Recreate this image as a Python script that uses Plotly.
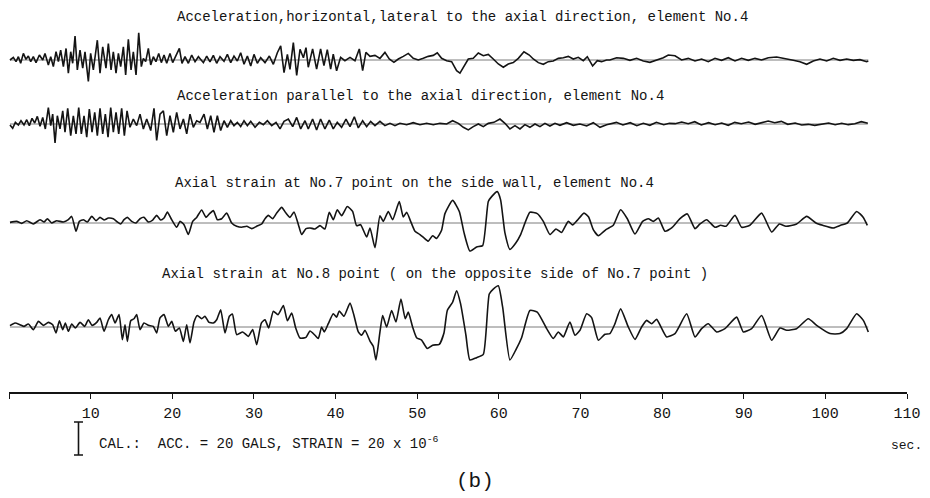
import plotly.graph_objects as go

# ---------------------------------------------------------------------------
# Digitised records (time in s, amplitude in gal or micro-strain about each
# channel's own zero line); listed as successive turning points.
# ---------------------------------------------------------------------------
acc_h_t = [0.12, 0.53, 0.86, 1.15, 1.43, 1.76, 2.08, 2.37, 2.66, 2.98,
           3.31, 3.72, 4.13, 4.41, 4.82, 5.11, 5.43, 5.76, 6.05, 6.33,
           6.66, 6.99, 7.27, 7.56, 7.8, 8.09, 8.37, 8.7, 9.03, 9.31,
           9.72, 10.0, 10.33, 10.82, 11.15, 11.48, 11.88, 12.17, 12.5, 12.78,
           13.11, 13.4, 13.68, 14.01, 14.29, 14.62, 14.95, 15.23, 15.56, 15.89,
           16.21, 16.46, 16.74, 17.07, 17.36, 17.68, 18.0, 18.34, 18.66, 18.99,
           19.32, 19.72, 20.05, 20.46, 20.87, 21.19, 21.56, 21.97, 22.38, 22.79,
           23.2,
           23.81, 24.22, 24.62, 25.03, 25.44, 25.85, 26.34, 26.75, 27.16, 27.56,
           27.97, 28.38, 28.79, 29.2, 29.61, 30.01, 30.42, 30.83, 31.36, 31.89,
           32.38, 32.87, 33.28, 33.69, 34.1, 34.42, 34.83, 35.24, 35.65, 36.06,
           36.38,
           36.66, 37.19, 37.68, 38.17, 38.58, 38.99, 39.4, 39.72, 40.13, 40.62,
           41.15, 41.77, 42.38, 42.91, 43.32, 43.72, 44.22, 44.83, 45.44, 46.05,
           46.58, 47.15, 47.69, 48.3, 48.91, 49.52, 50.14, 50.75, 51.36, 51.97,
           52.46, 52.99, 53.61, 54.22, 54.83, 55.24, 55.73, 56.26, 56.87, 57.49,
           58.1, 58.71, 59.32, 59.94, 60.55, 61.16, 61.77, 62.39, 63.08, 63.73,
           64.22, 64.84, 65.45, 66.06, 66.67, 67.29, 67.9, 68.51, 69.12, 69.73,
           70.35, 70.84, 71.49, 72.06, 72.59, 73.2,
           73.6, 74.43, 75.25, 76.06, 76.88, 77.7, 78.51, 79.33, 80.15, 80.76,
           81.58, 82.39, 83.21, 84.03, 84.84, 85.66, 86.48, 87.29, 88.11, 88.93,
           89.74, 90.56, 91.38, 92.19, 93.01, 94.03, 95.05, 96.07, 96.89, 97.71,
           98.52, 99.34, 100.16, 100.97, 101.79, 102.61, 103.42, 104.24, 105.06, 105.26]
acc_h_v = [0, 1.6, -1, 2, -2, 4, 0.4, 2.4, -1, 2,
           -1.6, 3, 0, 4, -3, 2, -4, 5, -1, 6,
           -4, 7, -8, 5, -2, 14.5, -6, 6, -5, 5,
           -13, 4, -6, 12, -8, 8, -5, 10, -6, 5,
           -8, 4, -4, 8, -9, 12.5, -6, 5, -9, 16.5,
           -4, 1, -1, 7, -3, 2, -1, 4, -1.6, 3,
           -2, 4, -1.6, 3, 7, -2, 2, -2, 3, -1,
           2,
           -1.6, 2.4, -1.2, 2.8, -2, 2, -0.8, 3.4, -1.6, 2.4,
           -0.6, 4.4, -2.6, 2.4, -3.6, 3.4, -2, 1.4, -1.6, 2.4,
           -2.6, 4.4, 8.5, -7.7, 3.4, -5.7, 10.5, -9.3, 6.5, 1.4,
           7.5,
           -4.4, 6.7, -5.5, 6.7, -3.4, 6.3, -5.5, 3.6, -6.5, 1.6,
           -0.4, 1.6, -0.4, 6.7, -6.5, 4.6, 2.2, 2.8, 1, 4.6,
           0.6, -1.4, 0.6, 2.2, 4, 1, 0, 1, 2.2, 2.8,
           4.4, 1, -0.4, -1, -6.5, -7.9, -3.4, 0.6, 1, 4.2,
           2.6, 3.4, 0.6, -2.4, -4.4, -2.4, -1.6, 1, 5, 3,
           0.6, -1.6, -2.6, -1, -0.6, 1, 1.4, 2.2, 0.6, 1.6,
           -0.4, 2, -3.6, -0.4, -1, 0,
           0, 1.4, 1, -0.2, 1, -0.6, -1.4, 0, 1.4, 3,
           2.6, 0, 1, -0.6, 0.6, -1, 1, -0.2, 1.4, -0.6,
           1, -0.2, 1, 0, 1.4, 1.8, 0.6, -0.2, -1, -2.6,
           -0.6, 0.6, -0.6, 1, -0.2, 0.6, -0.2, 0.2, -1, -0.6]

acc_a_t = [0.12, 0.45, 0.78, 1.15, 1.47, 1.84, 2.17, 2.49, 2.82, 3.15,
           3.47, 3.8, 4.13, 4.45, 4.82, 5.11, 5.35, 5.64, 5.92, 6.25,
           6.58, 6.86, 7.19, 7.56, 7.88, 8.21, 8.54, 8.86, 9.19, 9.52,
           9.84, 10.17, 10.5, 10.82, 11.15, 11.48, 11.8, 12.13, 12.46, 12.78,
           13.11, 13.44, 13.8, 14.13, 14.46, 14.82, 15.23, 15.64, 16.05, 16.46,
           16.87, 17.36, 17.76, 18.09, 18.5, 18.91, 19.32, 19.72, 20.13, 20.54,
           20.95, 21.36, 21.77, 22.17, 22.58, 22.99,
           23.4, 23.89, 24.3, 24.71, 25.11, 25.52, 25.93, 26.34, 26.75, 27.16,
           27.56, 27.97, 28.38, 28.79, 29.2, 29.61, 30.14, 30.67, 31.16, 31.65,
           32.18, 32.71, 33.2, 33.69, 34.22, 34.75, 35.24, 35.73, 36.26,
           36.66, 37.19, 37.68, 38.17, 38.7, 39.23, 39.72, 40.21, 40.74, 41.28,
           41.77, 42.3, 42.79, 43.32, 43.81, 44.3, 44.83, 45.44, 46.05, 46.67,
           47.28, 47.89, 48.71, 49.52, 50.34, 51.16, 51.97, 52.79, 53.61, 54.34,
           55.04, 55.65, 56.26, 56.87, 57.49, 58.1, 58.71, 59.4, 60.14, 60.75,
           61.36, 61.98, 62.59, 63.2, 63.81, 64.43, 65.04, 65.65, 66.26, 66.88,
           67.49, 68.31, 69.12, 69.94, 70.76, 71.57, 72.39, 73.2,
           74.4, 75.2, 76.1, 76.9, 77.7, 78.5, 79.3, 80.2, 80.9, 81.6,
           82.4, 83.2, 84.0, 84.8, 85.7, 86.5, 87.3, 88.1, 88.9, 89.7,
           90.6, 91.4, 92.2, 93.0, 93.8, 94.6, 95.4, 96.3, 97.1, 97.9,
           98.7, 99.5, 100.4, 101.2, 102.0, 102.8, 103.6, 104.4, 105.2]
acc_a_v = [-0.6, -2.6, 1, -0.6, 2, -0.6, 2.6, -1, 3.4, 0.6,
           4.6, -1.4, 4, -3, 10, -1, 6, -11.5, 5, -3,
           8, -5, 9.5, -7, 5, -6, 10, -6, 5, -8,
           9, -5, 7, -7, 9.5, -6, 6, -8, 10, -5,
           7, -6, 9.5, -7, 8, -2, 3, -1, 6, -3,
           3, -4, 9.5, -10, 6, 8, -7, 5, -5, 7,
           -3, 3, -6, 6, -2, 2,
           1, 6, -3, 5, -5, 5, -4, 2, -2, 2,
           -1, 1, -1.6, 2, -1, 1.6, -2, 1, -0.4, 2,
           -1, 1, -3, 1.6, 3, -1.6, 4, -3, 2,
           -3, 3, -3.6, 3, -3, 2.4, -3, 1, -2, 3,
           -1.6, 4.4, -2.4, 2, -1.6, 1.6, -1, 1.6, -1, 0.4,
           -1, 0.4, -0.4, 0.8, -0.4, 0.4, -0.4, 0.4, 0, 2,
           0.4, -2, -3.6, -1.6, 0, -1.6, 0.4, 1, 3, 0.4,
           -3, -1, -3, -0.4, -2, 0, -1.6, 0.4, -1.2, 0.4,
           -0.8, 0.8, -0.8, 0, -1.2, 0.8, -2, -0.4,
           1, -0.6, 0.8, -1, 0.4, -0.8, 1, -0.4, 0.4, 0.2,
           1.2, 0.2, 1.4, -0.6, 0.8, -0.4, 0.6, -0.8, 1, 0.2,
           1.2, -0.2, 0.6, 1.8, 0.8, 1.6, -0.2, 0.6, -0.6, -0.2,
           -0.8, 0, 0.6, -0.4, 0.4, -0.4, 0.2, 1.4, 0.4]

strain7_t = [0.12, 0.94, 1.55, 2.17, 2.98, 3.8, 4.29, 4.7, 5.23, 5.84,
             6.66, 7.27, 7.68, 8.21, 8.62, 9.11, 9.6, 10.13, 10.66, 11.15,
             11.64, 12.17, 12.78, 13.27, 13.68, 14.09, 14.5, 15.03, 15.56, 16.05,
             16.54, 17.07, 17.6, 18.09, 18.58, 18.99, 19.4, 19.93, 20.54, 20.95,
             21.44, 21.97, 22.5, 22.99, 23.6, 24.13, 24.54, 25.03, 25.52, 26.05,
             26.67, 27.28, 27.89, 28.5, 29.12, 29.73, 30.34, 30.95, 31.36, 31.77,
             32.3, 32.79, 33.4, 33.93, 34.42, 34.91, 35.45, 35.85, 36.38,
             36.87, 37.48, 38.09, 38.7, 39.23, 39.72, 40.21, 40.74, 41.44, 42.09,
             42.58, 43.07, 43.81, 44.22, 44.83, 45.44, 45.85, 46.46, 46.99, 47.81,
             48.3, 48.71, 49.2, 49.73, 50.34, 50.83, 51.36, 51.89, 52.38, 52.99,
             53.4, 54.34, 55.16, 55.73, 56.46, 57.28, 58.02, 58.71, 59.12, 59.81,
             60.22, 60.75, 61.36, 62.1, 62.67, 63.81, 64.71, 65.45, 66.26, 67.0,
             67.69, 68.51, 69.04, 69.61, 70.43, 71.0, 71.57, 72.19, 73.12,
             74.02, 74.92, 75.74, 76.68, 77.62, 78.31, 78.92, 79.54, 80.35, 81.17,
             82.19, 83.09, 84.03, 84.64, 85.46, 86.48, 87.17, 87.83, 88.93, 89.74,
             90.76, 92.19, 93.42, 94.36, 95.17, 96.48, 97.71, 98.85, 99.67, 100.97,
             101.87, 102.69, 103.83, 104.65, 105.14]
strain7_v = [0.4, 1, -0.2, 1.4, -0.6, 2, 0.6, 2.6, 0, 1.4,
             0.6, 2, 4, -5, 1, 2, 0.6, 4, 1.4, 3.4,
             1.8, 3, 2.6, 0.6, -0.6, 2, 3.4, 1, 0, 2.6,
             3.4, 0.6, 1.8, 4.6, 1.8, 3, 6.7, 2, -2.6, 1,
             -1, -7, 1, 3.4, 7.9, 3.4, 5.5, 7.5, 2, 2.6,
             6, 0, -2, -2.6, -2, -3.4, -2, -0.6, 2.6, 4.6,
             2.6, 6, 9.5, 6, 3.4, 6.7, -1, -7, -3.4,
             -3, -3.6, -1.6, -3.6, 6.5, 2, 8, 4.4, 10, 7,
             -1.6, -1, -8.5, -3, -15, 4.4, 1, 7, 2, 13,
             3.6, 6.5, 1, -5, -7, -9, -11, -7.7, -9.3, -4.4,
             5.7, 13.7, 7, -5.7, -17, -14.5, -13.7, 13, 16, 19,
             14, -6, -16, -12, -7, 6.5, 5.7, 1, -7, -3.6,
             -5.7, 1, -1.2, 1.6, 6, 3.6, -4, -7.7, -4,
             -1.4, 8, 2.6, -6.7, 1, 2.6, 1, 3, -5, -3,
             2.6, 5.5, -3.4, -0.6, 2, -2.6, -1.4, -2, 4.6, -2.6,
             -1.4, 6, -5.5, -0.6, -2, -0.6, 4, 0, -1.4, -3,
             -1.4, 0, 7, 3.4, -1.4]

strain8_t = [0.12, 0.74, 1.35, 1.84, 2.37, 2.98, 3.6, 4.21, 4.82, 5.35,
             5.76, 6.17, 6.58, 6.9, 7.27, 7.68, 8.13, 8.7, 9.27, 9.72,
             10.17, 10.74, 11.15, 11.64, 12.17, 12.58, 12.99, 13.48, 13.89, 14.21,
             14.5, 14.91, 15.31, 15.64, 16.05, 16.54, 17.07, 17.68, 18.09, 18.5,
             18.99, 19.52, 19.93, 20.38, 20.87, 21.36, 21.77, 22.17, 22.66, 23.07,
             23.6, 24.01, 24.46, 25.03, 25.44, 25.93, 26.46, 26.99, 27.36, 27.89,
             28.63, 29.32, 29.85, 30.34, 30.91, 31.36, 31.81, 32.38, 32.95, 33.61,
             34.1, 34.63, 35.12, 35.65, 36.38,
             36.87, 37.48, 37.89, 38.29, 38.62, 39.11, 39.72, 40.13, 40.46, 41.03,
             41.77, 42.26, 42.79, 43.2, 43.6, 44.22, 44.62, 44.95, 45.44, 45.77,
             46.26, 46.87, 47.4, 48.01, 48.54, 48.91, 49.44, 49.93, 50.54, 51.24,
             51.89, 52.71, 53.28, 53.69, 54.34, 54.83, 55.32, 55.97, 56.46, 57.28,
             58.1, 58.83, 59.32, 59.94, 60.47, 61.36, 62.1, 62.79, 63.81, 64.71,
             65.86, 66.67, 67.29, 67.9, 68.71, 69.33, 69.94, 70.76, 71.37, 72.19,
             73.0,
             73.61, 74.23, 74.92, 75.86, 76.68, 77.49, 78.11, 78.72, 79.33, 80.56,
             81.58, 83.01, 84.03, 84.84, 85.66, 86.68, 87.7, 89.13, 89.95, 90.97,
             92.19, 93.42, 94.44, 95.26, 96.48, 97.91, 98.93, 100.56, 101.79, 102.61,
             103.83, 104.65, 105.26]
strain8_v = [0.8, 2.4, 1.4, 0.4, 1.8, -1.6, 3.4, 1, 2.8, 1.4,
             -3.6, 3.8, -1.6, 2.4, -2.6, 1.8, -0.6, 2.8, 0.4, 4.4,
             1, 2.8, 5.5, -2.6, 4.4, 7.5, 2.4, 7.5, -7.7, 1.4,
             -8.7, 3.8, 5, 7.5, -1.6, 2.4, 1, 0.4, -3.6, 5.5,
             7.5, 0.4, 3.4, -2.6, -0.6, -8.7, 1.4, -9.7, 3, 7,
             5, 6.5, 3, 2.4, 4.4, 10.5, -3.6, 6.5, 7.9, -4.6,
             -3, -5.7, -1.6, -10.7, 2.4, 4.4, -0.6, 9.5, 7.5, 13,
             3.8, 8.5, -0.6, -6.7, -6.3,
             -2.4, -5, -7, 0, -3, 2, 8, 6, 9.7, 6.5,
             14.5, 7, -3, -5, -2, -8.5, -11.7, -20, -3, 7,
             0, 10, 3, 17, 5, 9, 0, -6.5, -8, -13,
             -11, -10.5, -3.6, 10, 15, 22, 14, -5, -20, -18.6,
             -16.6, 20, 23, 25, 12, -20, -13.7, -6.5, 10, 9,
             -1, -7, -3, -6, 3, -5, -2, 8, 5.7, -8,
             -4.4,
             -4, 2, 11, 0, -7.5, 0, 4, 2, 4.6, -6,
             -4, 8, -6, -1, 2, -3, -1, 6, -3, -1,
             7, -8, -0.6, -2, -1, 5, 1, -4, -4, -1,
             8, 4, -3]

channel_titles = [
    "Acceleration,horizontal,lateral to the axial direction, element No.4",
    "Acceleration parallel to the axial direction, element No.4",
    "Axial strain at No.7 point on the side wall, element No.4",
    "Axial strain at No.8 point ( on the opposite side of No.7 point )",
]

tick_values = [0, 10, 20, 30, 40, 50, 60, 70, 80, 90, 100, 110]
tick_labels = ["", "10", "20", "30", "40", "50", "60", "70", "80", "90", "100", "110"]

CAL_SPAN = 20  # 20 gal / 20 x 10^-6 strain
cal_text = "CAL.:  ACC. = 20 GALS, STRAIN = 20 x 10<sup>-6</sup>"

# ---------------------------------------------------------------------------
# Page geometry
# ---------------------------------------------------------------------------
W, H = 930, 498
LEFT, RIGHT = 9, 23            # plot margins (px)
AXIS_PX = 393                  # time axis height from top (px)
PX_PER_UNIT = 1.65             # vertical scale of every channel
PX_PER_SEC = (W - LEFT - RIGHT) / 110.0

y_lo = -(H - AXIS_PX) / PX_PER_UNIT
y_hi = AXIS_PX / PX_PER_UNIT


def px_to_y(py):
    return (AXIS_PX - py) / PX_PER_UNIT


def px_to_t(px):
    return (px - LEFT) / PX_PER_SEC


MONO = "Liberation Mono, DejaVu Sans Mono, monospace"
INK = "#141414"

channels = [
    dict(t=acc_h_t, v=acc_h_v, base=px_to_y(60), shape="linear"),
    dict(t=acc_a_t, v=acc_a_v, base=px_to_y(124), shape="linear"),
    dict(t=strain7_t, v=strain7_v, base=px_to_y(223), shape="spline"),
    dict(t=strain8_t, v=strain8_v, base=px_to_y(327), shape="spline"),
]

fig = go.Figure()

for ch in channels:
    # zero line of the channel
    fig.add_trace(go.Scatter(
        x=[ch["t"][0], ch["t"][-1]], y=[ch["base"], ch["base"]],
        mode="lines", line=dict(color="#5a5a5a", width=0.8),
        hoverinfo="skip"))
    # the record itself
    fig.add_trace(go.Scatter(
        x=ch["t"], y=[ch["base"] + a for a in ch["v"]],
        mode="lines",
        line=dict(color=INK, width=1.6, shape=ch["shape"], smoothing=0.5)))

# calibration bar (length = CAL_SPAN units)
fig.add_trace(go.Scatter(
    x=[px_to_t(78.5)], y=[px_to_y(438.5)],
    mode="markers", marker=dict(size=1, color=INK),
    error_y=dict(type="data", array=[CAL_SPAN / 2], visible=True,
                 color=INK, thickness=1.6, width=4.5),
    hoverinfo="skip"))

title_pos = [(175, 17), (175, 96), (173, 183), (160, 274)]
annotations = []
for text, (px, py) in zip(channel_titles, title_pos):
    annotations.append(dict(
        x=px_to_t(px), y=px_to_y(py), xref="x", yref="y",
        text=text, showarrow=False, xanchor="left", yanchor="middle",
        font=dict(family=MONO, size=14, color=INK)))

annotations += [
    dict(x=px_to_t(97), y=px_to_y(443), xref="x", yref="y", text=cal_text,
         showarrow=False, xanchor="left", yanchor="middle",
         font=dict(family=MONO, size=14, color=INK)),
    dict(x=px_to_t(889), y=px_to_y(445), xref="x", yref="y", text="sec.",
         showarrow=False, xanchor="left", yanchor="middle",
         font=dict(family=MONO, size=13, color=INK)),
    dict(x=px_to_t(475), y=px_to_y(481), xref="x", yref="y", text="(b)",
         showarrow=False, xanchor="center", yanchor="middle",
         font=dict(family=MONO, size=21, color=INK)),
]

fig.update_layout(
    width=W, height=H,
    margin=dict(l=LEFT, r=RIGHT, t=0, b=0, pad=0),
    paper_bgcolor="white", plot_bgcolor="white",
    showlegend=False,
    xaxis=dict(range=[0, 110], anchor="free", position=(H - AXIS_PX) / H,
               showline=True, linecolor=INK, linewidth=1.5,
               ticks="outside", ticklen=5, tickwidth=1.3, tickcolor=INK,
               tickvals=tick_values, ticktext=tick_labels,
               tickfont=dict(family=MONO, size=15, color=INK),
               ticklabelstandoff=1,
               showgrid=False, zeroline=False, fixedrange=True),
    yaxis=dict(range=[y_lo, y_hi], visible=False, showgrid=False,
               zeroline=False, fixedrange=True),
    annotations=annotations,
)

fig.write_html("out.html")
